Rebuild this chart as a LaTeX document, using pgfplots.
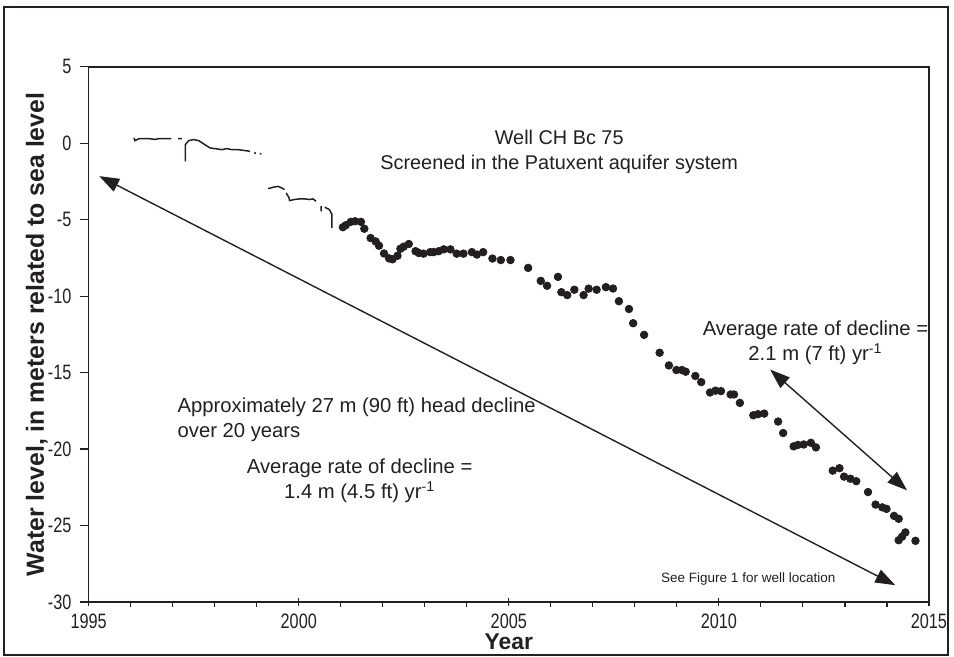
\documentclass[border=0pt]{standalone}
\usepackage{pgfplots}
\pgfplotsset{compat=1.18}
\usepackage{fontspec}
\setmainfont{Liberation Sans}
\newfontfamily\narrowfont[FakeStretch=0.78]{Liberation Sans}
\usetikzlibrary{arrows.meta}
\definecolor{ink}{HTML}{231F20}
\begin{document}
\begin{tikzpicture}
\begin{axis}[
  scale only axis, width=421.5bp, height=268.5bp,
  xmin=1995, xmax=2015, ymin=-30, ymax=5,
  axis line style={line width=0.75bp, draw=ink},
  xtick={1995,2000,2005,2010,2015},
  xticklabels={1995,2000,2005,2010,2015},
  minor xtick={1996,1997,1998,1999,2001,2002,2003,2004,2006,2007,2008,2009,2011,2012,2013,2014},
  ytick={-30,-25,-20,-15,-10,-5,0,5},
  yticklabels={-30,-25,-20,-15,-10,-5,0,5},
  tick pos=left,
  xtick align=center, ytick align=outside,
  major tick length=4.5bp, minor tick length=2.5bp,
  minor x tick style={yshift=-1.2bp},
  tick style={line width=0.6bp, draw=ink},
  tick label style={font=\narrowfont\fontsize{10.5}{12}\selectfont, text=ink},
  yticklabel style={inner sep=4bp},
  xticklabel style={inner sep=3.5bp},
  xlabel={Year},
  xlabel style={font=\bfseries\fontsize{11.5}{13}\selectfont, text=ink, at={(axis description cs:0.5,0)}, anchor=center, yshift=-20bp},
  ylabel={Water level, in meters related to sea level},
  ylabel style={font=\bfseries\fontsize{12.5}{14}\selectfont, text=ink, at={([xshift=-26bp]axis description cs:0,0.5)}, anchor=center},
  clip=false,
  unbounded coords=jump,
]
\coordinate (O) at (rel axis cs:0,0);
% early continuous record
\addplot[ink, line width=0.75bp] coordinates {
 (1996.08,0.35) (1996.10,0.17) (1996.20,0.30) (1996.43,0.30) (1996.58,0.25) (1996.67,0.30) (1996.97,0.30)
 (1997.05,nan)
 (1997.13,0.30) (1997.22,0.30)
 (1997.26,nan)
 (1997.30,-1.18) (1997.30,-0.09) (1997.38,0.17) (1997.50,0.24) (1997.62,0.17) (1997.74,-0.05) (1997.89,-0.31) (1998.05,-0.37) (1998.17,-0.42) (1998.29,-0.35) (1998.40,-0.42) (1998.56,-0.42) (1998.72,-0.48) (1998.84,-0.53)
 (1998.89,nan)
 (1998.94,-0.63) (1998.98,-0.65)
 (1999.03,nan)
 (1999.07,-0.68) (1999.11,-0.70)
 (1999.20,nan)
 (1999.27,-2.97) (1999.39,-2.88) (1999.51,-2.82) (1999.59,-2.92) (1999.66,-3.03)
 (1999.68,nan)
 (1999.70,-3.25) (1999.77,-3.57) (1999.78,-3.75) (1999.90,-3.68) (2000.02,-3.64) (2000.14,-3.64) (2000.26,-3.68) (2000.34,-3.64) (2000.41,-3.79)
 (2000.47,nan)
 (2000.53,-4.12) (2000.53,-4.45)
 (2000.58,nan)
 (2000.62,-4.18) (2000.65,-4.23) (2000.73,-4.34) (2000.79,-4.66) (2000.79,-5.53)
};
% periodic measurements
\addplot[only marks, mark=*, mark size=1.9bp, mark options={fill=ink, draw=ink}] coordinates {
 (2001.05,-5.49) (2001.12,-5.36) (2001.24,-5.14) (2001.34,-5.10) (2001.48,-5.14) (2001.56,-5.59)
 (2001.71,-6.20) (2001.83,-6.42) (2001.91,-6.70) (2002.03,-7.21) (2002.15,-7.53) (2002.23,-7.59)
 (2002.35,-7.36) (2002.42,-6.90) (2002.50,-6.76) (2002.62,-6.59) (2002.78,-7.06) (2002.86,-7.18)
 (2002.97,-7.22) (2003.13,-7.12) (2003.21,-7.12) (2003.33,-7.06) (2003.45,-6.94) (2003.61,-6.94)
 (2003.76,-7.22) (2003.92,-7.22) (2004.12,-7.12) (2004.24,-7.28) (2004.39,-7.12) (2004.61,-7.54)
 (2004.81,-7.64) (2005.04,-7.64) (2005.46,-8.15) (2005.76,-9.00) (2005.91,-9.32) (2006.17,-8.74)
 (2006.25,-9.74) (2006.39,-9.93) (2006.56,-9.58) (2006.78,-9.93) (2006.90,-9.51) (2007.09,-9.58)
 (2007.31,-9.41) (2007.48,-9.50) (2007.62,-10.33) (2007.86,-10.84) (2007.96,-11.77) (2008.22,-12.53)
 (2008.59,-13.70) (2008.81,-14.53) (2008.99,-14.83) (2009.12,-14.83) (2009.21,-14.94) (2009.44,-15.22)
 (2009.58,-15.62) (2009.79,-16.30) (2009.92,-16.18) (2010.05,-16.21) (2010.28,-16.43) (2010.36,-16.43)
 (2010.50,-16.98) (2010.82,-17.79) (2010.93,-17.72) (2011.08,-17.68) (2011.41,-18.20) (2011.53,-18.95)
 (2011.78,-19.82) (2011.88,-19.73) (2012.02,-19.70) (2012.19,-19.59) (2012.31,-19.89)
 (2012.71,-21.41) (2012.87,-21.25) (2012.98,-21.80) (2013.13,-21.94) (2013.27,-22.10) (2013.55,-22.81)
 (2013.73,-23.63) (2013.89,-23.81) (2013.99,-23.91) (2014.17,-24.37) (2014.28,-24.56) (2014.44,-25.45)
 (2014.28,-25.96) (2014.36,-25.73) (2014.68,-26.00)
};
% annotations
\draw[ink, line width=0.7bp, {Triangle[length=10bp,width=7bp]}-{Triangle[length=10bp,width=7bp]}]
  (axis cs:1995.25,-2.15) -- (axis cs:2014.2,-28.9);
\draw[ink, line width=0.7bp, {Triangle[length=10bp,width=7bp]}-{Triangle[length=10bp,width=7bp]}]
  (axis cs:2011.22,-14.8) -- (axis cs:2014.48,-22.7);
\node[text=ink, font=\fontsize{10}{12.5}\selectfont, align=center] at (axis cs:2006.2,-0.55)
  {Well CH Bc 75\\Screened in the Patuxent aquifer system};
\node[text=ink, font=\fontsize{10.2}{12.7}\selectfont, align=left, anchor=west] at (axis cs:1996.95,-18.1)
  {Approximately 27 m (90 ft) head decline\\over 20 years};
\node[text=ink, font=\fontsize{10.2}{12.7}\selectfont, align=center] at (axis cs:2001.45,-22.05)
  {Average rate of decline =\\1.4 m (4.5 ft) yr\textsuperscript{-1}};
\node[text=ink, font=\fontsize{10.2}{12.7}\selectfont, align=center] at (axis cs:2012.3,-13.05)
  {Average rate of decline =\\2.1 m (7 ft) yr\textsuperscript{-1}};
\node[text=ink, font=\fontsize{6.8}{8}\selectfont] at (axis cs:2010.7,-28.5)
  {See Figure 1 for well location};
\end{axis}
\path (O) ++(-44.5bp,-27.5bp) rectangle ++(477bp,329.5bp);
\draw[ink, line width=0.75bp] (O) ++(-42.5bp,-26.5bp) rectangle ++(473.5bp,325bp);
\end{tikzpicture}
\end{document}
